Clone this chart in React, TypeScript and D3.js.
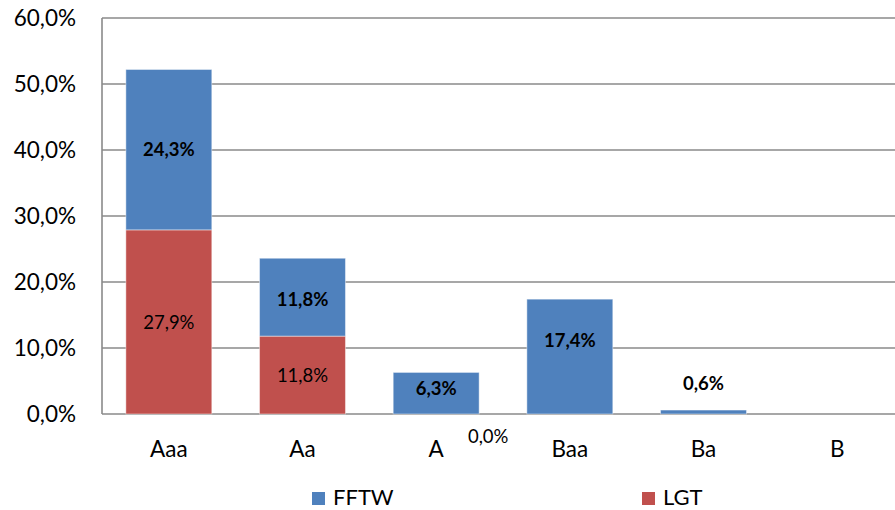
import React from 'react';
import * as d3 from 'd3';

const categories = ['Aaa', 'Aa', 'A', 'Baa', 'Ba', 'B'];
// null = no value shown for that rating
const fftw: (number | null)[] = [24.3, 11.8, 6.3, 17.4, 0.6, null];
const lgt: (number | null)[] = [27.9, 11.8, 0.0, null, null, null];
const yTicks = [0, 10, 20, 30, 40, 50, 60];
const seriesNames = ['FFTW', 'LGT'];

// hand-moved data labels (px), as in the original sheet
const fftwLabelShift = [0, 2, -5, -16, -29, 0];

const BLUE = '#4F81BD';
const RED = '#C0504D';
const GRID = '#8a8a8a';
const FONT = 'Lato, "Open Sans", sans-serif';

const fmt = (v: number) => v.toFixed(1).replace('.', ',') + '%';

export default function App() {
  const width = 895;
  const height = 510;
  const left = 102;
  const top = 18;
  const bottom = 414;
  const right = 904; // plot runs past the crop edge

  const x = d3.scaleBand<string>()
    .domain(categories)
    .range([left, right])
    .paddingInner(0.357)
    .paddingOuter(0.1785);

  const y = d3.scaleLinear().domain([0, 60]).range([bottom, top]);

  const bw = x.bandwidth();

  return (
    <svg width={width} height={height} style={{ position: 'absolute', left: 0, top: 0 }}
      fontFamily={FONT}>
      <rect width={width} height={height} fill="#fff" />
      {yTicks.map(t => (
        <g key={t}>
          <line x1={left} x2={width} y1={y(t)} y2={y(t)} stroke={GRID} strokeWidth={1.6} />
          <text x={76} y={y(t)} dy="0.36em" textAnchor="end" fontSize={22.5} fill="#000">{fmt(t)}</text>
        </g>
      ))}
      <line x1={left} x2={left} y1={top} y2={bottom} stroke={GRID} strokeWidth={1.6} />

      {categories.map((c, i) => {
        const x0 = x(c)!;
        const l = lgt[i] ?? 0;
        const f = fftw[i];
        return (
          <g key={c}>
            {l > 0 && (
              <rect x={x0} width={bw} y={y(l)} height={y(0) - y(l)} fill={RED}
                stroke="#fff" strokeOpacity={0.45} strokeWidth={1} />
            )}
            {f != null && f > 0 && (
              <rect x={x0} width={bw} y={y(l + f)} height={y(l) - y(l + f)} fill={BLUE}
                stroke="#fff" strokeOpacity={0.45} strokeWidth={1} />
            )}
          </g>
        );
      })}

      {categories.map((c, i) => {
        const cx = x(c)! + bw / 2;
        const l = lgt[i];
        const f = fftw[i];
        const base = l ?? 0;
        return (
          <g key={'lab' + c}>
            {l != null && l > 0 && (
              <text x={cx} y={(y(0) + y(l)) / 2} dy="0.36em" textAnchor="middle" fontSize={18.5}>{fmt(l)}</text>
            )}
            {l != null && l === 0 && (
              <text x={cx + 52} y={y(0) + 22} dy="0.36em" textAnchor="middle" fontSize={18.5}>{fmt(l)}</text>
            )}
            {f != null && (
              <text x={cx} y={(y(base) + y(base + f)) / 2 + fftwLabelShift[i]} dy="0.36em"
                textAnchor="middle" fontSize={18.5} fontWeight="bold">{fmt(f)}</text>
            )}
            <text x={cx} y={457} textAnchor="middle" fontSize={22.5}>{c}</text>
          </g>
        );
      })}

      {seriesNames.map((s, i) => {
        const lx = i === 0 ? 312 : 642;
        return (
          <g key={s}>
            <rect x={lx} y={492} width={13} height={13} fill={i === 0 ? BLUE : RED} />
            <text x={lx + 21} y={505} fontSize={22}>{s}</text>
          </g>
        );
      })}
    </svg>
  );
}
